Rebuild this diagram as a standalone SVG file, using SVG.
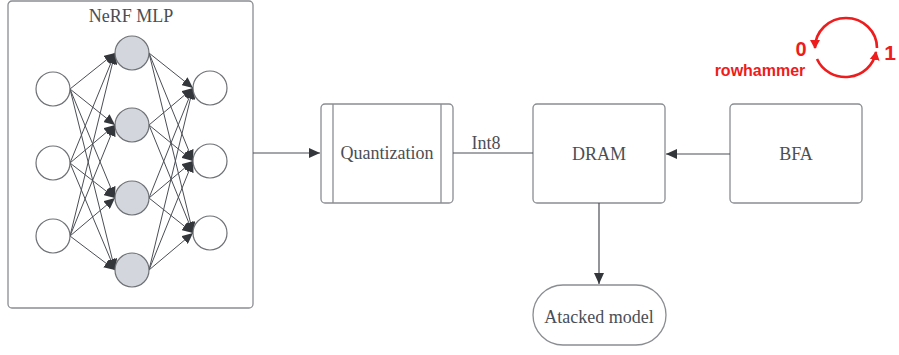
<svg xmlns="http://www.w3.org/2000/svg" width="899" height="355" viewBox="0 0 899 355">
<defs>
<style>
.box{fill:#fff;stroke:#8a8d91;stroke-width:1.3}
.in{fill:#fff;stroke:#6e7175;stroke-width:1.2}
.hid{fill:#d3d6dc;stroke:#6e7175;stroke-width:1.2}
.t{font-family:"Liberation Serif","Times New Roman",serif;font-size:18px;fill:#4a4e55;text-anchor:middle}
.e{stroke:#4a4e55;stroke-width:1;fill:none;marker-end:url(#ah)}
.c{stroke:#4a4e55;stroke-width:1.2;fill:none}
.r{fill:#ee1c1c;font-family:"Liberation Sans",Arial,sans-serif;font-weight:bold}
.ra{stroke:#ee1c1c;stroke-width:2.6;fill:none;marker-end:url(#rh)}
</style>
<marker id="ah" markerUnits="userSpaceOnUse" markerWidth="12" markerHeight="10" refX="11" refY="5" orient="auto">
<path d="M0,0 L11,5 L0,10 Z" fill="#33363b"/>
</marker>
<marker id="rh" markerUnits="userSpaceOnUse" markerWidth="10" markerHeight="10" refX="8" refY="5" orient="auto">
<path d="M0,0 L9,5 L0,10 Z" fill="#ee1c1c"/>
</marker>
</defs>

<g id="nerf-mlp">
<rect class="box" x="8" y="1" width="245" height="307" rx="4"/>
<text class="t" x="131" y="22">NeRF MLP</text>
<g id="mlp-edges">
<line class="e" x1="70" y1="89" x2="115" y2="53"/>
<line class="e" x1="70" y1="89" x2="115" y2="125"/>
<line class="e" x1="70" y1="89" x2="115" y2="198"/>
<line class="e" x1="70" y1="89" x2="115" y2="270"/>
<line class="e" x1="70" y1="163" x2="115" y2="53"/>
<line class="e" x1="70" y1="163" x2="115" y2="125"/>
<line class="e" x1="70" y1="163" x2="115" y2="198"/>
<line class="e" x1="70" y1="163" x2="115" y2="270"/>
<line class="e" x1="70" y1="236" x2="115" y2="53"/>
<line class="e" x1="70" y1="236" x2="115" y2="125"/>
<line class="e" x1="70" y1="236" x2="115" y2="198"/>
<line class="e" x1="70" y1="236" x2="115" y2="270"/>
<line class="e" x1="149" y1="53" x2="193" y2="88"/>
<line class="e" x1="149" y1="53" x2="193" y2="161"/>
<line class="e" x1="149" y1="53" x2="193" y2="233"/>
<line class="e" x1="149" y1="125" x2="193" y2="88"/>
<line class="e" x1="149" y1="125" x2="193" y2="161"/>
<line class="e" x1="149" y1="125" x2="193" y2="233"/>
<line class="e" x1="149" y1="198" x2="193" y2="88"/>
<line class="e" x1="149" y1="198" x2="193" y2="161"/>
<line class="e" x1="149" y1="198" x2="193" y2="233"/>
<line class="e" x1="149" y1="270" x2="193" y2="88"/>
<line class="e" x1="149" y1="270" x2="193" y2="161"/>
<line class="e" x1="149" y1="270" x2="193" y2="233"/>
</g>
<circle class="in" cx="53" cy="89" r="17"/>
<circle class="in" cx="53" cy="163" r="17"/>
<circle class="in" cx="53" cy="236" r="17"/>
<circle class="hid" cx="132" cy="53" r="17"/>
<circle class="hid" cx="132" cy="125" r="17"/>
<circle class="hid" cx="132" cy="198" r="17"/>
<circle class="hid" cx="132" cy="270" r="17"/>
<circle class="in" cx="210" cy="88" r="17"/>
<circle class="in" cx="210" cy="161" r="17"/>
<circle class="in" cx="210" cy="233" r="17"/>
</g>

<g id="quantization">
<rect class="box" x="321" y="104" width="132" height="99" rx="4"/>
<line class="box" x1="333" y1="104" x2="333" y2="203"/>
<line class="box" x1="441" y1="104" x2="441" y2="203"/>
<text class="t" x="387" y="159">Quantization</text>
</g>

<g id="dram">
<rect class="box" x="533" y="104" width="132" height="99" rx="4"/>
<text class="t" x="599" y="160">DRAM</text>
</g>

<g id="bfa">
<rect class="box" x="730" y="104" width="132" height="99" rx="4"/>
<text class="t" x="796" y="160">BFA</text>
</g>

<g id="attacked-model">
<rect class="box" x="533" y="285" width="133" height="60" rx="30"/>
<text class="t" x="599" y="323">Atacked model</text>
</g>

<g id="rowhammer">
<text class="r" x="801" y="56" font-size="20" text-anchor="middle">0</text>
<text class="r" x="890" y="60" font-size="21" text-anchor="middle">1</text>
<text class="r" x="760" y="76" font-size="16" text-anchor="middle">rowhammer</text>
<path class="ra" d="M877,48 A31,30 0 0 0 815,48"/>
<path class="ra" d="M817,59 A31,30 0 0 0 876,52"/>
</g>

<g id="connectors">
<line class="c" x1="253" y1="153" x2="320" y2="153" marker-end="url(#ah)"/>
<line class="c" x1="453" y1="153" x2="533" y2="153"/>
<text class="t" x="486" y="149">Int8</text>
<line class="c" x1="730" y1="154" x2="666" y2="154" marker-end="url(#ah)"/>
<line class="c" x1="599" y1="203" x2="599" y2="284" marker-end="url(#ah)"/>
</g>
</svg>
